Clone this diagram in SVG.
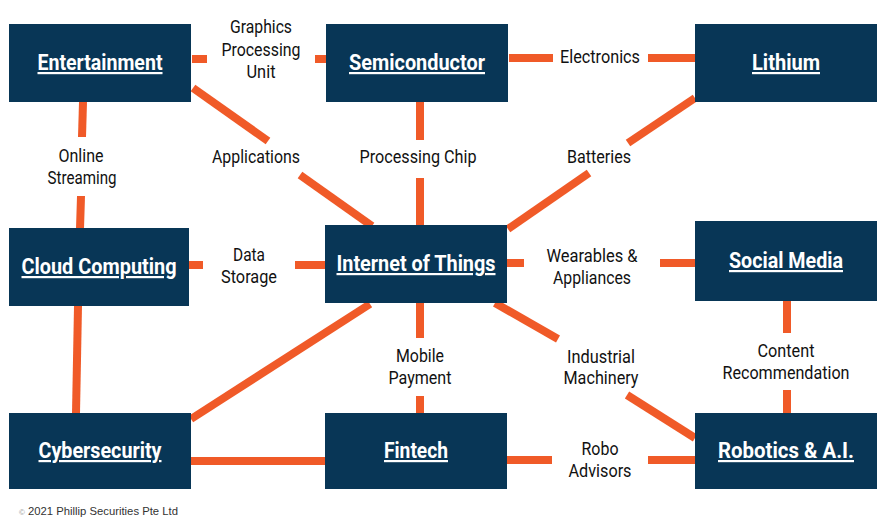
<svg xmlns="http://www.w3.org/2000/svg" width="883" height="532" viewBox="0 0 883 532">
<style>
.box{fill:#083656}
.nt{font-family:Roboto,"Liberation Sans",sans-serif;font-weight:bold;font-size:22px;fill:#fff;text-anchor:middle;text-decoration:underline}
.lb{font-family:Roboto,"Liberation Sans",sans-serif;font-size:17.5px;fill:#111;text-anchor:middle}
.c line{stroke:#f05a28;stroke-width:8;stroke-linecap:butt}
.cp{font-family:"Liberation Sans",Arial,sans-serif;font-size:11px;fill:#333}
</style>
<rect width="883" height="532" fill="#fff"/>
<g id="connectors" class="c">
<line x1="192" y1="59" x2="207" y2="59"/>
<line x1="315" y1="59" x2="327" y2="59"/>
<line x1="509" y1="58" x2="553" y2="58"/>
<line x1="648" y1="58" x2="696" y2="58"/>
<line x1="83" y1="102" x2="82" y2="137"/>
<line x1="81" y1="196" x2="80" y2="229"/>
<line x1="78" y1="306" x2="76" y2="413"/>
<line x1="193" y1="88" x2="268" y2="141"/>
<line x1="300" y1="175" x2="372" y2="226"/>
<line x1="420" y1="102" x2="420" y2="140"/>
<line x1="420" y1="178" x2="420" y2="226"/>
<line x1="695" y1="98" x2="628" y2="143"/>
<line x1="589" y1="173" x2="508" y2="229"/>
<line x1="189" y1="265" x2="203" y2="265"/>
<line x1="295" y1="265" x2="326" y2="265"/>
<line x1="507" y1="263" x2="524" y2="263"/>
<line x1="660" y1="263" x2="695" y2="263"/>
<line x1="370" y1="304" x2="191" y2="419"/>
<line x1="420" y1="303" x2="420" y2="338"/>
<line x1="420" y1="396" x2="420" y2="413"/>
<line x1="495" y1="303" x2="558" y2="339"/>
<line x1="627" y1="395" x2="695" y2="438"/>
<line x1="787" y1="301" x2="787" y2="333"/>
<line x1="787" y1="390" x2="787" y2="414"/>
<line x1="191" y1="461" x2="326" y2="461"/>
<line x1="507" y1="460" x2="552" y2="460"/>
<line x1="648" y1="460" x2="696" y2="460"/>
</g>
<g id="labels">
<text class="lb" x="261" y="33" textLength="62" lengthAdjust="spacingAndGlyphs">Graphics</text>
<text class="lb" x="261" y="56" textLength="79" lengthAdjust="spacingAndGlyphs">Processing</text>
<text class="lb" x="261" y="78" textLength="29" lengthAdjust="spacingAndGlyphs">Unit</text>
<text class="lb" x="600" y="63" textLength="80" lengthAdjust="spacingAndGlyphs">Electronics</text>
<text class="lb" x="81" y="162" textLength="45" lengthAdjust="spacingAndGlyphs">Online</text>
<text class="lb" x="82" y="184" textLength="69" lengthAdjust="spacingAndGlyphs">Streaming</text>
<text class="lb" x="256" y="163" textLength="88" lengthAdjust="spacingAndGlyphs">Applications</text>
<text class="lb" x="418" y="163" textLength="117" lengthAdjust="spacingAndGlyphs">Processing Chip</text>
<text class="lb" x="599" y="163" textLength="64" lengthAdjust="spacingAndGlyphs">Batteries</text>
<text class="lb" x="249" y="261" textLength="32" lengthAdjust="spacingAndGlyphs">Data</text>
<text class="lb" x="249" y="283" textLength="56" lengthAdjust="spacingAndGlyphs">Storage</text>
<text class="lb" x="592" y="262" textLength="91" lengthAdjust="spacingAndGlyphs">Wearables &amp;</text>
<text class="lb" x="592" y="284" textLength="78" lengthAdjust="spacingAndGlyphs">Appliances</text>
<text class="lb" x="420" y="362" textLength="48" lengthAdjust="spacingAndGlyphs">Mobile</text>
<text class="lb" x="420" y="384" textLength="63" lengthAdjust="spacingAndGlyphs">Payment</text>
<text class="lb" x="601" y="363" textLength="68" lengthAdjust="spacingAndGlyphs">Industrial</text>
<text class="lb" x="601" y="384" textLength="75" lengthAdjust="spacingAndGlyphs">Machinery</text>
<text class="lb" x="786" y="357" textLength="57" lengthAdjust="spacingAndGlyphs">Content</text>
<text class="lb" x="786" y="379" textLength="127" lengthAdjust="spacingAndGlyphs">Recommendation</text>
<text class="lb" x="600" y="455" textLength="37" lengthAdjust="spacingAndGlyphs">Robo</text>
<text class="lb" x="600" y="477" textLength="63" lengthAdjust="spacingAndGlyphs">Advisors</text>
</g>
<g id="entertainment"><rect class="box" x="9" y="24" width="182" height="78"/><text class="nt" x="100" y="70" textLength="125" lengthAdjust="spacingAndGlyphs">Entertainment</text></g>
<g id="semiconductor"><rect class="box" x="326" y="24" width="182" height="78"/><text class="nt" x="417" y="70" textLength="136" lengthAdjust="spacingAndGlyphs">Semiconductor</text></g>
<g id="lithium"><rect class="box" x="695" y="24" width="182" height="78"/><text class="nt" x="786" y="70" textLength="68" lengthAdjust="spacingAndGlyphs">Lithium</text></g>
<g id="cloud-computing"><rect class="box" x="9" y="228" width="180" height="78"/><text class="nt" x="99" y="274" textLength="155" lengthAdjust="spacingAndGlyphs">Cloud Computing</text></g>
<g id="internet-of-things"><rect class="box" x="325" y="225" width="182" height="78"/><text class="nt" x="416" y="271" textLength="159" lengthAdjust="spacingAndGlyphs">Internet of Things</text></g>
<g id="social-media"><rect class="box" x="695" y="221" width="182" height="80"/><text class="nt" x="786" y="268" textLength="114" lengthAdjust="spacingAndGlyphs">Social Media</text></g>
<g id="cybersecurity"><rect class="box" x="9" y="413" width="182" height="76"/><text class="nt" x="100" y="458" textLength="123" lengthAdjust="spacingAndGlyphs">Cybersecurity</text></g>
<g id="fintech"><rect class="box" x="325" y="413" width="182" height="76"/><text class="nt" x="416" y="458" textLength="64" lengthAdjust="spacingAndGlyphs">Fintech</text></g>
<g id="robotics-ai"><rect class="box" x="695" y="413" width="182" height="76"/><text class="nt" x="786" y="458" textLength="136" lengthAdjust="spacingAndGlyphs">Robotics &amp; A.I.</text></g>
<text class="cp" x="19" y="515"><tspan font-size="8" fill="#999">©</tspan> <tspan textLength="150" lengthAdjust="spacingAndGlyphs">2021 Phillip Securities Pte Ltd</tspan></text>
</svg>
